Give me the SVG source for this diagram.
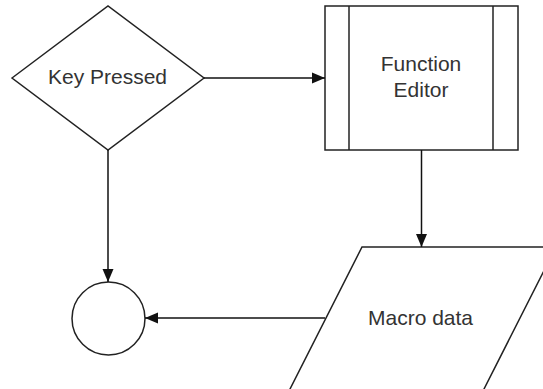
<svg xmlns="http://www.w3.org/2000/svg" width="543" height="389" viewBox="0 0 543 389">
<defs>
<style>
.shape{fill:#fff;stroke:#222;stroke-width:1.5}
.edge{fill:none;stroke:#111;stroke-width:1.5}
.lbl{font-family:"Liberation Sans",Arial,sans-serif;font-size:21px;fill:#333;text-anchor:middle}
</style>
<marker id="arr" markerUnits="userSpaceOnUse" markerWidth="14" markerHeight="12" refX="13" refY="6" orient="auto">
<path d="M0,0.5 L13,6 L0,11.5 z" fill="#111"/>
</marker>
</defs>
<rect width="543" height="389" fill="#fff"/>
<g id="key-pressed">
<polygon class="shape" points="12,78 108,6 204,78 108,150"/>
<text class="lbl" x="107.5" y="84">Key Pressed</text>
</g>
<g id="function-editor">
<rect class="shape" x="325" y="6" width="193" height="144"/>
<line class="shape" x1="349" y1="6" x2="349" y2="150"/>
<line class="shape" x1="493" y1="6" x2="493" y2="150"/>
<text class="lbl" x="421" y="71">Function</text>
<text class="lbl" x="421" y="97">Editor</text>
</g>
<g id="macro-data">
<polygon class="shape" points="362,247 556,247 483,391 289,391"/>
<text class="lbl" x="420.5" y="324.5">Macro data</text>
</g>
<g id="end">
<circle class="shape" cx="108.5" cy="318.5" r="36.5"/>
</g>
<g id="connectors">
<line class="edge" x1="204" y1="78" x2="325" y2="78" marker-end="url(#arr)"/>
<line class="edge" x1="421.5" y1="150" x2="421.5" y2="247" marker-end="url(#arr)"/>
<line class="edge" x1="108" y1="150" x2="108" y2="282" marker-end="url(#arr)"/>
<line class="edge" x1="325" y1="318" x2="145" y2="318" marker-end="url(#arr)"/>
</g>
</svg>
